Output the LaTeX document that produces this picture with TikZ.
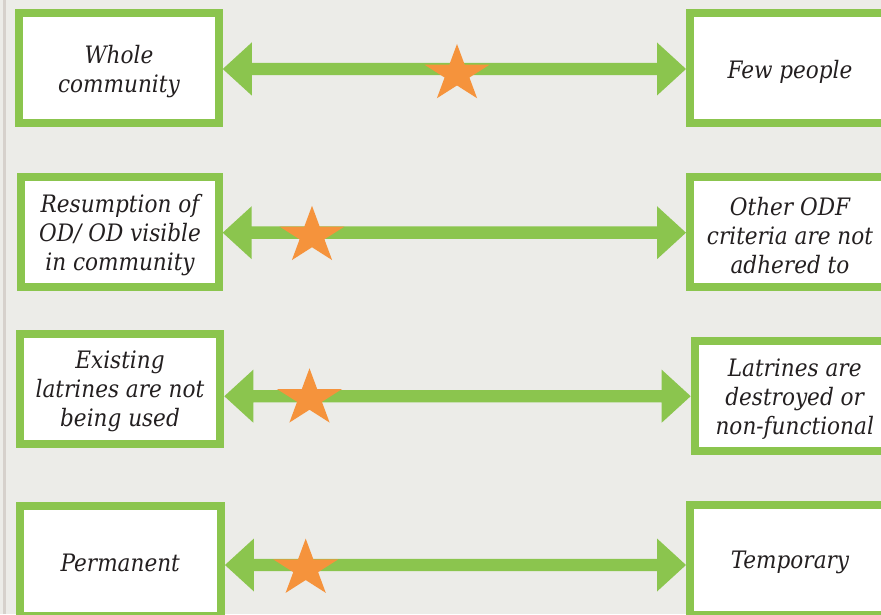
\documentclass[tikz,border=0pt]{standalone}
\usepackage{fontspec}
\usetikzlibrary{shapes.geometric,calc}
\newfontfamily\lbl{DejaVuSerifCondensed-Italic.ttf}
\definecolor{bg}{RGB}{236,236,232}
\definecolor{edgegrey}{RGB}{214,209,204}
\definecolor{boxgreen}{RGB}{139,197,78}
\definecolor{starorange}{RGB}{245,147,60}
\definecolor{txt}{RGB}{35,31,32}
\newcommand{\dblarr}[3]{%
  \fill[boxgreen] let \p1=(#1), \p2=(#2) in
    (\x1,\y2+#3) -- (\x1+29pt,\y2+#3+26.5pt) -- (\x1+29pt,\y2+#3+6.2pt)
    -- (\x2-29pt,\y2+#3+6.2pt) -- (\x2-29pt,\y2+#3+26.5pt) -- (\x2,\y2+#3)
    -- (\x2-29pt,\y2+#3-26.5pt) -- (\x2-29pt,\y2+#3-6.2pt)
    -- (\x1+29pt,\y2+#3-6.2pt) -- (\x1+29pt,\y2+#3-26.5pt) -- cycle;}
\tikzset{
  lbox/.style={draw=boxgreen, line width=8pt, fill=white, minimum width=200pt,
    minimum height=110pt, inner sep=0pt},
  ltext/.style={inner sep=0pt, align=center, text=txt,
    font=\lbl\fontsize{24}{29}\selectfont},
  starnode/.style={star, star points=5, star point ratio=2.618, minimum size=60pt,
    inner sep=0pt, fill=starorange, draw=none, xscale=1.14},
}
\begin{document}
\begin{tikzpicture}[x=1pt,y=1pt]
\useasboundingbox (0,0) rectangle (881,614);
\clip (0,0) rectangle (881,614);
\fill[bg] (0,0) rectangle (881,614);
\fill[edgegrey] (2.8,0) rectangle (5.6,614);

\node[lbox, minimum width=199.7pt] (l1) at (118.9,545.5) {};
\node[lbox] (r1) at (790,545.5) {};
\node[lbox, minimum width=197.4pt] (l2) at (120,381.8) {};
\node[lbox] (r2) at (790,381.8) {};
\node[lbox, minimum width=200.6pt] (l3) at (120,225.2) {};
\node[lbox] (r3) at (794.7,217.8) {};
\node[lbox, minimum width=201.3pt] (l4) at (120.3,53.3) {};
\node[lbox] (r4) at (790,54) {};

\node[ltext] (l1t) at ([yshift=-3pt]l1.center) {Whole\\community};
\node[ltext] (r1t) at ([yshift=-3pt]r1.center) {Few people};
\node[ltext] (l2t) at ([yshift=-3pt]l2.center) {Resumption of\\OD/ OD visible\\in community};
\node[ltext] (r2t) at ([yshift=-3pt]r2.center) {Other ODF\\criteria are not\\adhered to};
\node[ltext] (l3t) at ([yshift=-3pt]l3.center) {Existing\\latrines are not\\being used};
\node[ltext] (r3t) at ([yshift=-3pt]r3.center) {Latrines are\\destroyed or\\non-functional};
\node[ltext] (l4t) at ([yshift=-2pt]l4.center) {Permanent};
\node[ltext] (r4t) at ([yshift=-2pt]r4.center) {Temporary};

\dblarr{l1.east}{r1.west}{-0.5pt}
\dblarr{l2.east}{r2.west}{-0.5pt}
\dblarr{l3.east}{r3.west}{0pt}
\dblarr{l4.east}{r4.west}{-5pt}

\node[starnode] (s1) at (457,540) {};
\node[starnode] (s2) at (312,378.2) {};
\node[starnode] (s3) at (309.5,215.7) {};
\node[starnode] (s4) at (305.7,45.4) {};
\end{tikzpicture}
\end{document}
